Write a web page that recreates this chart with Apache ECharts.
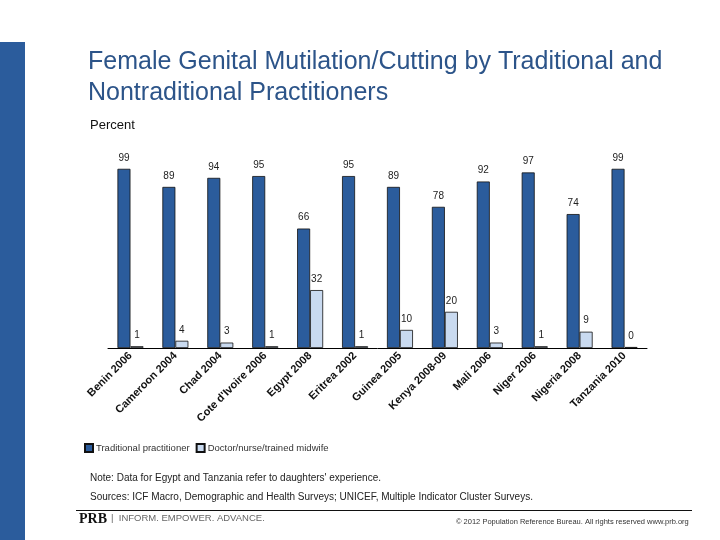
<!DOCTYPE html>
<html>
<head>
<meta charset="utf-8">
<script src="https://cdn.jsdelivr.net/npm/echarts@6/dist/echarts.min.js"></script>
<style>
  html, body { margin: 0; padding: 0; background: #fff; }
  #main { width: 720px; height: 540px; }
</style>
</head>
<body>
<div id="main"></div>
<script>
// data
let countries = ['Benin 2006', 'Cameroon 2004', 'Chad 2004', "Cote d'Ivoire 2006", 'Egypt 2008',
    'Eritrea 2002', 'Guinea 2005', 'Kenya 2008-09', 'Mali 2006', 'Niger 2006', 'Nigeria 2008', 'Tanzania 2010'];
let traditional = [99, 89, 94, 95, 66, 95, 89, 78, 92, 97, 74, 99];
let medical = [1, 4, 3, 1, 32, 1, 10, 20, 3, 1, 9, 0];

let myChart = echarts.init(document.getElementById('main'));

let labelStyle = {
    show: true,
    position: 'top',
    distance: 6,
    fontFamily: 'Arial, Liberation Sans, sans-serif',
    fontSize: 10,
    color: '#222'
};

let option = {
    backgroundColor: '#fff',
    animation: false,
    title: [{
        text: 'Female Genital Mutilation/Cutting by Traditional and\nNontraditional Practitioners',
        left: 88,
        top: 47,
        padding: 0,
        textStyle: {
            fontFamily: 'Arial, Liberation Sans, sans-serif',
            fontSize: 25,
            fontWeight: 'normal',
            color: '#2c5489',
            lineHeight: 31
        }
    }, {
        text: 'Percent',
        left: 90,
        top: 119,
        padding: 0,
        textStyle: {
            fontFamily: 'Arial, Liberation Sans, sans-serif',
            fontSize: 13,
            fontWeight: 'normal',
            color: '#111'
        }
    }],
    legend: {
        left: 84,
        top: 443,
        padding: 0,
        itemWidth: 8,
        itemHeight: 8,
        itemGap: 6,
        icon: 'rect',
        textStyle: {
            fontFamily: 'Arial, Liberation Sans, sans-serif',
            fontSize: 9.5,
            color: '#333',
            padding: [0, 0, 0, -2]
        },
        data: ['Traditional practitioner', 'Doctor/nurse/trained midwife']
    },
    grid: {
        left: 108,
        width: 539,
        top: 167,
        bottom: 192
    },
    xAxis: {
        type: 'category',
        data: countries,
        axisLine: { lineStyle: { color: '#000', width: 1 } },
        axisTick: { show: false },
        axisLabel: {
            rotate: 45,
            interval: 0,
            margin: 6,
            fontFamily: 'Arial, Liberation Sans, sans-serif',
            fontSize: 11,
            fontWeight: 'bold',
            color: '#111'
        }
    },
    yAxis: {
        type: 'value',
        min: 0,
        max: 100,
        show: false,
        splitLine: { show: false }
    },
    series: [{
        name: 'Traditional practitioner',
        type: 'bar',
        data: traditional,
        barWidth: 13,
        barGap: '0%',
        itemStyle: { color: '#2b5c9c', borderColor: '#111', borderWidth: 0.8 },
        label: labelStyle
    }, {
        name: 'Doctor/nurse/trained midwife',
        type: 'bar',
        data: medical,
        barWidth: 13,
        barMinHeight: 1,
        itemStyle: { color: '#c9daf0', borderColor: '#111', borderWidth: 0.8 },
        label: labelStyle
    }],
    graphic: [{
        type: 'rect',
        shape: { x: 0, y: 42, width: 25, height: 498 },
        style: { fill: '#2b5c9c' }
    }, {
        type: 'text',
        left: 90,
        top: 473,
        style: {
            text: "Note: Data for Egypt and Tanzania refer to daughters' experience.",
            font: '10px Arial, Liberation Sans, sans-serif',
            fill: '#222'
        }
    }, {
        type: 'text',
        left: 90,
        top: 492,
        style: {
            text: 'Sources: ICF Macro, Demographic and Health Surveys; UNICEF, Multiple Indicator Cluster Surveys.',
            font: '10px Arial, Liberation Sans, sans-serif',
            fill: '#222'
        }
    }, {
        type: 'line',
        shape: { x1: 76, y1: 510.5, x2: 692, y2: 510.5 },
        style: { stroke: '#111', lineWidth: 1 }
    }, {
        type: 'text',
        left: 79,
        top: 512,
        style: {
            text: 'PRB',
            font: 'bold 14px "Liberation Serif", "DejaVu Serif", serif',
            fill: '#111'
        }
    }, {
        type: 'text',
        left: 111,
        top: 513,
        style: {
            text: '|  INFORM. EMPOWER. ADVANCE.',
            font: '9.5px Arial, Liberation Sans, sans-serif',
            fill: '#666'
        }
    }, {
        type: 'text',
        left: 456,
        top: 518,
        style: {
            text: '© 2012 Population Reference Bureau. All rights reserved www.prb.org',
            font: '7.5px Arial, Liberation Sans, sans-serif',
            fill: '#333'
        }
    }]
};

myChart.setOption(option);
</script>
</body>
</html>
